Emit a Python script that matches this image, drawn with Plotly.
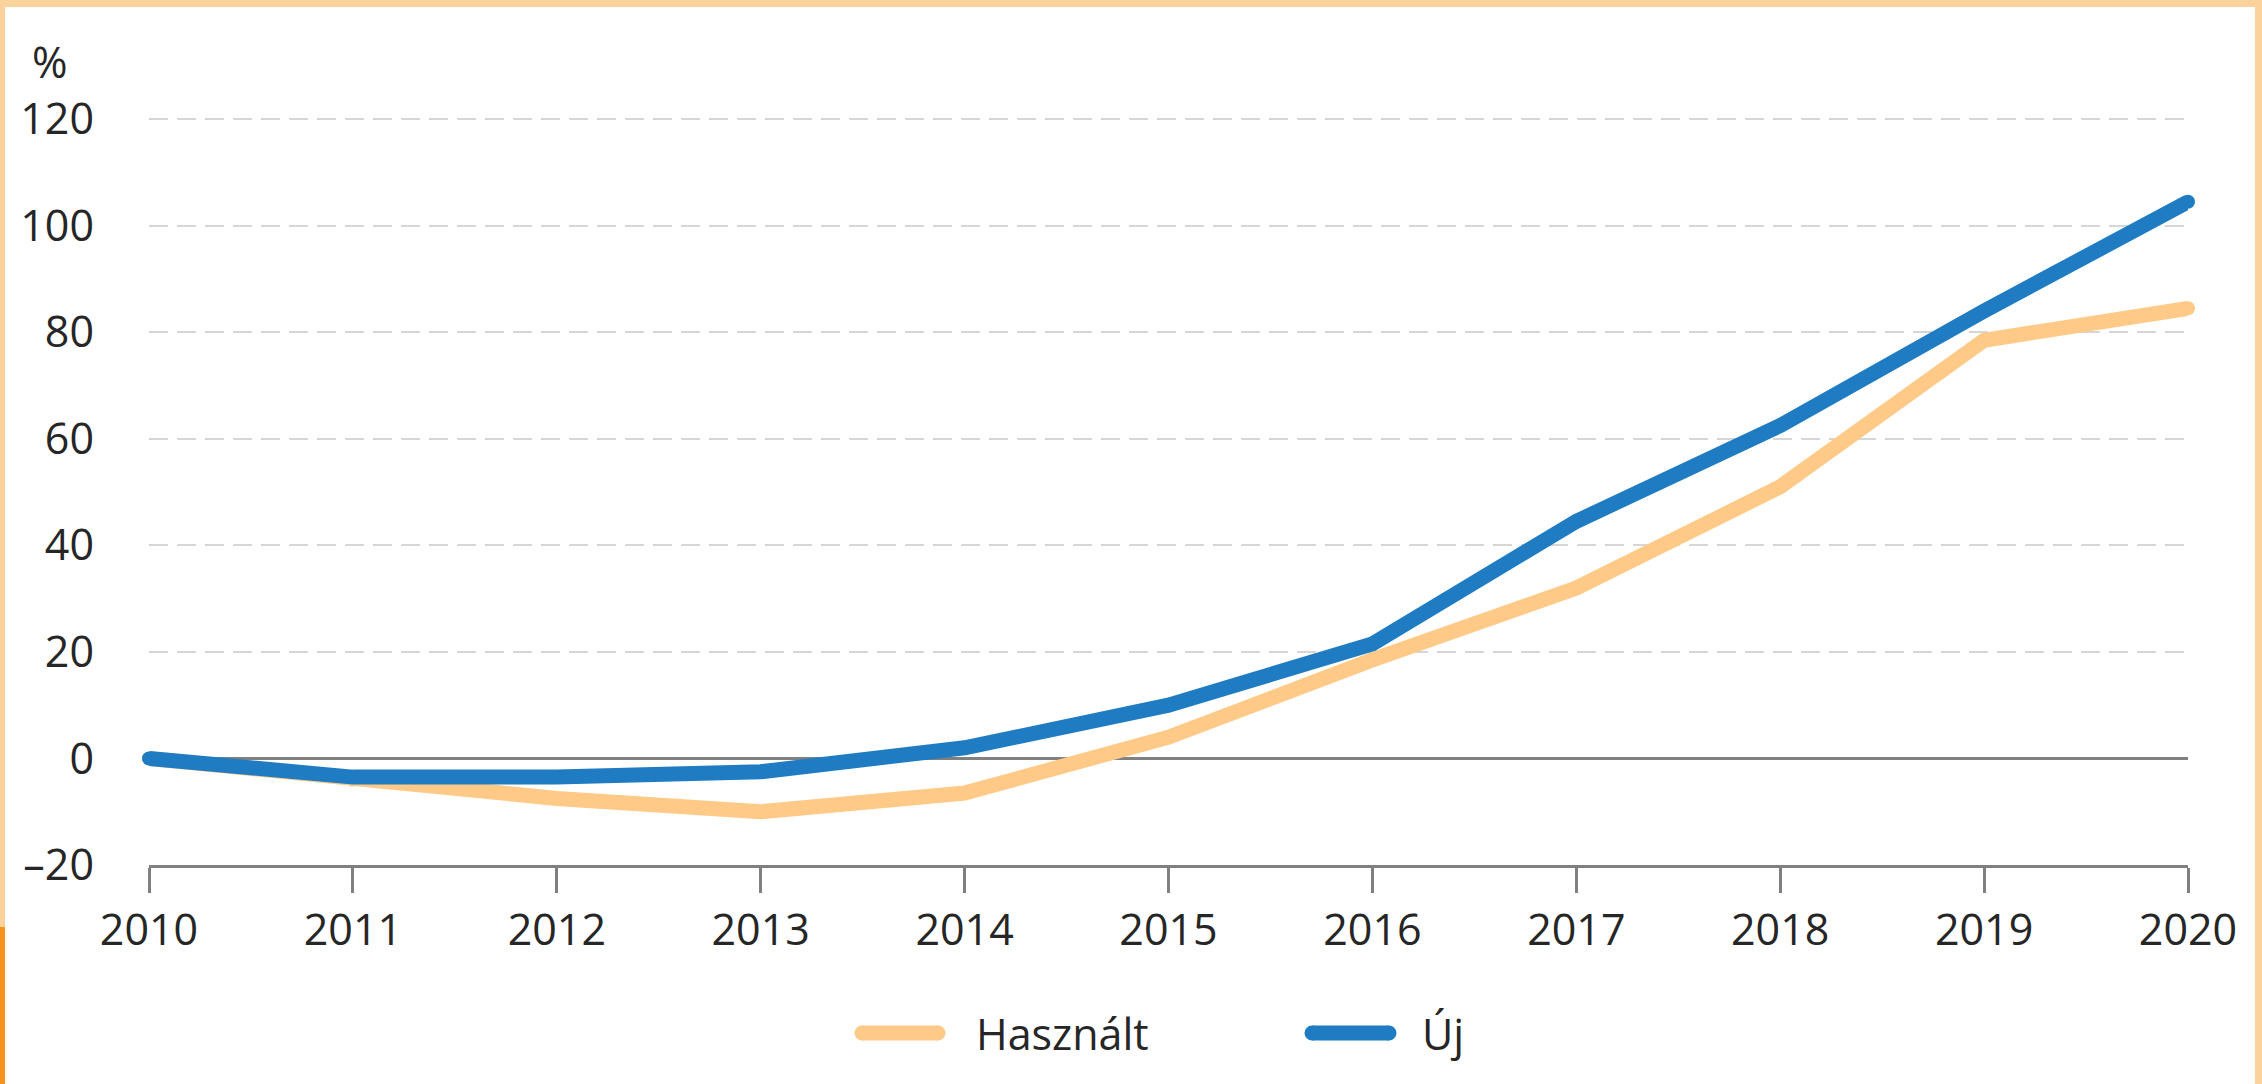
import plotly.graph_objects as go

years = [2010, 2011, 2012, 2013, 2014, 2015, 2016, 2017, 2018, 2019, 2020]
hasznalt = [0, -4, -7.5, -10, -6.5, 4, 18.5, 32, 51, 78.5, 84.5]
uj = [0, -3.5, -3.5, -2.5, 2, 10, 21.5, 44.5, 62.5, 84, 104.5]
series_names = ["Használt", "Új"]
y_ticks = [-20, 0, 20, 40, 60, 80, 100, 120]
y_tick_labels = ["–20", "0", "20", "40", "60", "80", "100", "120"]

C_USED = "#FFCA88"
C_NEW = "#1F7CC2"
FONT = "Open Sans"
TXT = "#262626"
FS = 43
W, H = 2262, 1084
Y_TOP = 120.6
ML, MR, MB = 149, 74, 219
# plot area: y=-20 at pixel 865, y=120 at pixel 119
px_per_unit = (865 - 119) / 140.0
MT = int(round(119 - (Y_TOP - 120) * px_per_unit))
PW, PH = W - ML - MR, H - MT - MB


def px_x(p):
    return (p - ML) / PW


def px_y(p):
    return (H - MB - p) / PH


fig = go.Figure()
for name, vals, col in [(series_names[0], hasznalt, C_USED), (series_names[1], uj, C_NEW)]:
    fig.add_trace(go.Scatter(
        x=years, y=vals, name=name, mode="lines+markers",
        line=dict(color=col, width=15),
        marker=dict(color=col, size=14, line=dict(width=0)),
        cliponaxis=False, showlegend=False, hoverinfo="x+y+name",
    ))

shapes = [
    dict(type="rect", xref="paper", yref="paper", layer="below",
         x0=px_x(5), x1=px_x(2255), y0=px_y(7), y1=px_y(H + 5),
         fillcolor="white", line=dict(width=0)),
    dict(type="rect", xref="paper", yref="paper", layer="below",
         x0=px_x(-2), x1=px_x(5), y0=px_y(927), y1=px_y(H + 5),
         fillcolor="#F7941E", line=dict(width=0)),
]
annotations = [
    dict(text="%", xref="paper", yref="paper", x=px_x(50), y=px_y(61),
         xanchor="center", yanchor="middle", showarrow=False,
         font=dict(family=FONT, size=FS, color=TXT)),
]
leg_y = px_y(1033)
for (x0, x1, tx), name, col in [((862, 938, 974), series_names[0], C_USED),
                                 ((1312, 1389, 1420), series_names[1], C_NEW)]:
    shapes.append(dict(type="line", xref="paper", yref="paper",
                       x0=px_x(x0), x1=px_x(x1), y0=leg_y, y1=leg_y,
                       line=dict(color=col, width=15)))
    for xe in (x0, x1):
        shapes.append(dict(type="circle", xref="paper", yref="paper",
                           xsizemode="pixel", ysizemode="pixel",
                           xanchor=px_x(xe), yanchor=leg_y,
                           x0=-7.5, x1=7.5, y0=-7.5, y1=7.5,
                           fillcolor=col, line=dict(width=0)))
    annotations.append(dict(text=name, xref="paper", yref="paper",
                            x=px_x(tx), y=leg_y, xanchor="left", yanchor="middle",
                            showarrow=False,
                            font=dict(family=FONT, size=FS, color=TXT)))

fig.update_layout(
    width=W, height=H,
    margin=dict(l=ML, r=MR, t=MT, b=MB, pad=0),
    paper_bgcolor="#FBD29B", plot_bgcolor="white",
    font=dict(family=FONT, size=FS, color=TXT),
    shapes=shapes, annotations=annotations,
    showlegend=False,
    xaxis=dict(
        range=[2010, 2020], tickmode="array", tickvals=years,
        ticktext=[str(y) for y in years],
        showgrid=False, zeroline=False,
        showline=True, linecolor="#808080", linewidth=3,
        ticks="outside", ticklen=25, tickwidth=3, tickcolor="#808080",
        tickfont=dict(family=FONT, size=FS, color=TXT),
    ),
    yaxis=dict(
        range=[-20, Y_TOP], tickmode="array", tickvals=y_ticks, ticktext=y_tick_labels,
        showgrid=True, gridcolor="#D6D6D6", gridwidth=2, griddash="19px,9px",
        zeroline=True, zerolinecolor="#808080", zerolinewidth=3,
        showline=False, ticks="", ticklabelstandoff=54,
        tickfont=dict(family=FONT, size=FS, color=TXT),
    ),
)

fig.write_html("out.html", config={"displayModeBar": False},
               post_script="document.body.style.margin='0';document.body.style.overflow='hidden';")
